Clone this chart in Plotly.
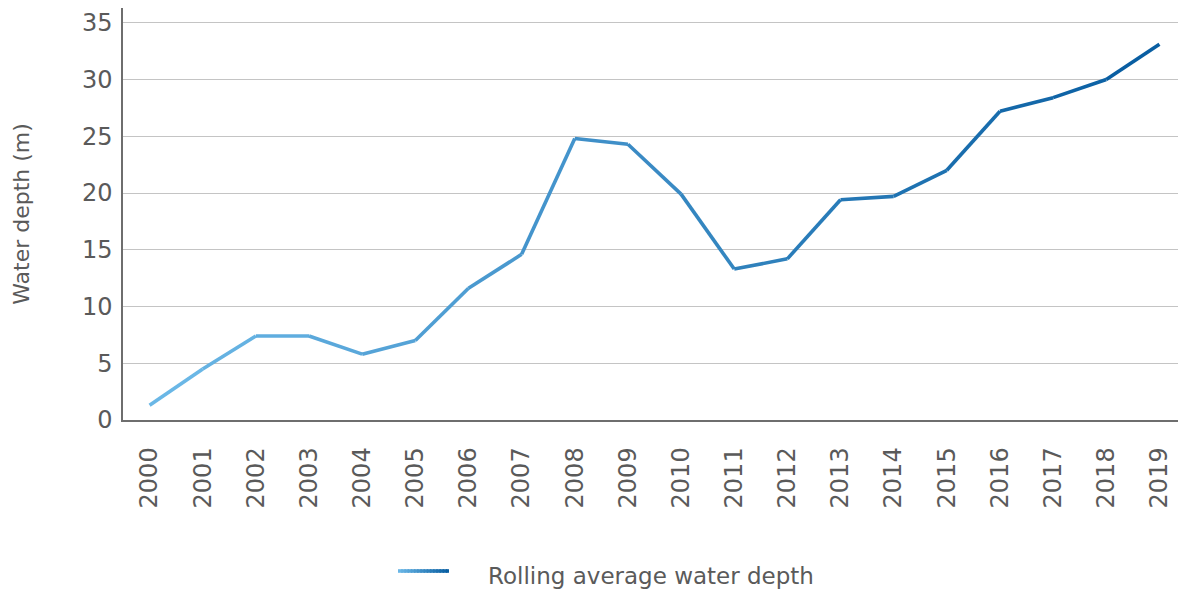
import plotly.graph_objects as go

years = [str(y) for y in range(2000, 2020)]
depth = [1.3, 4.5, 7.4, 7.4, 5.8, 7.0, 11.6, 14.6, 24.8, 24.3,
         19.9, 13.3, 14.2, 19.4, 19.7, 22.0, 27.2, 28.4, 30.0, 33.1]
series_name = "Rolling average water depth"
y_ticks = [0, 5, 10, 15, 20, 25, 30, 35]

C_START = (0x6d, 0xb9, 0xe8)
C_END = (0x06, 0x5c, 0xa0)
FONT = "DejaVu Sans"
TEXT = "#5a5a5a"

# page is drawn with an 8px body margin, so the figure sits at (8, 8)
PLOT_L, PLOT_W, PLOT_BOTTOM, PLOT_H = 123, 1063, 420, 412


def mix(t):
    r, g, b = (round(a + (b_ - a) * t) for a, b_ in zip(C_START, C_END))
    return f"rgb({r},{g},{b})"


def px_x(x):
    return (x - PLOT_L) / PLOT_W


def px_y(y):
    return (PLOT_BOTTOM - y) / PLOT_H


fig = go.Figure()

# gradient line: one short segment per pair of points
n = len(years)
for i in range(n - 1):
    fig.add_trace(go.Scatter(
        x=years[i:i + 2], y=depth[i:i + 2], mode="lines",
        line=dict(color=mix((i + 0.5) / (n - 1)), width=3.6),
        showlegend=False, hoverinfo="skip",
    ))
fig.add_trace(go.Scatter(
    x=years, y=depth, mode="markers", marker=dict(opacity=0, size=1),
    name=series_name, showlegend=False,
))

# legend: gradient swatch made of short overlapping pieces + text
x0, x1, ly = 398, 449, 571
steps = 16
seg = (x1 - x0) / steps
for k in range(steps):
    fig.add_shape(
        type="line", xref="paper", yref="paper",
        x0=px_x(x0 + seg * k), x1=px_x(min(x1, x0 + seg * (k + 1) + 1.5)),
        y0=px_y(ly), y1=px_y(ly),
        line=dict(color=mix((k + 0.5) / steps), width=3.6),
    )
fig.add_annotation(
    text=series_name, xref="paper", yref="paper",
    x=px_x(486), y=px_y(ly + 5),
    xanchor="left", yanchor="middle", showarrow=False,
    font=dict(size=23, color=TEXT, family=FONT),
)

fig.update_layout(
    width=1178, height=586,
    margin=dict(l=115, r=0, t=0, b=174),
    plot_bgcolor="white", paper_bgcolor="white",
    font=dict(family=FONT, color=TEXT, size=24),
    showlegend=False,
)
fig.update_xaxes(
    type="category", range=[-0.5, 19.5], tickangle=-90,
    showgrid=False, showline=True, linecolor="#6e6e6e", linewidth=1.5,
    ticks="", ticklabelstandoff=16, tickfont=dict(size=24, color=TEXT),
)
fig.update_yaxes(
    range=[0, 36.3], tickvals=y_ticks, showgrid=True,
    gridcolor="#c4c4c4", gridwidth=1.2, zeroline=False,
    showline=True, linecolor="#6e6e6e", linewidth=1.5,
    ticks="", ticklabelstandoff=4, tickfont=dict(size=24, color=TEXT),
    title=dict(text="Water depth (m)", font=dict(size=22, color=TEXT), standoff=46),
)

fig.write_html("out.html")
